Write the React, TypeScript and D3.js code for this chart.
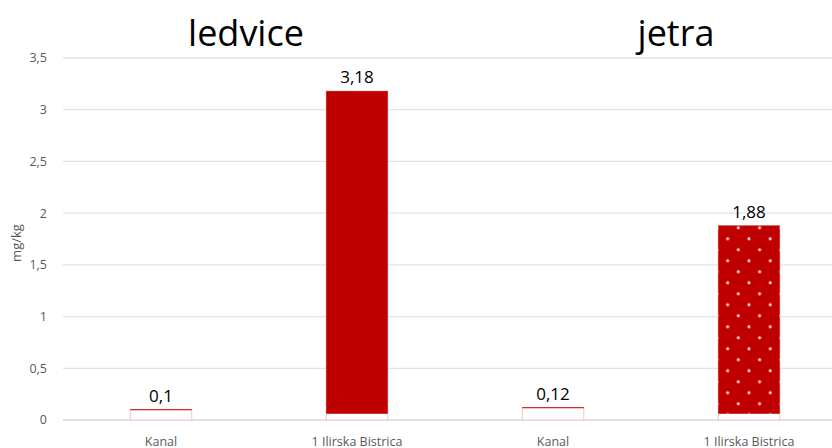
import React from "react";
import * as d3 from "d3";

const categories = ["Kanal", "1 Ilirska Bistrica", "Kanal ", "1 Ilirska Bistrica "];
const categoryLabels = ["Kanal", "1 Ilirska Bistrica", "Kanal", "1 Ilirska Bistrica"];
const values = [0.1, 3.18, 0.12, 1.88];
const valueLabels = ["0,1", "3,18", "0,12", "1,88"];
const fills = ["empty", "solid", "empty", "dots"];
const baseValue = 0.06;
const yTicks = [0, 0.5, 1, 1.5, 2, 2.5, 3, 3.5];
const groupTitles = ["ledvice", "jetra"];
const yAxisTitle = "mg/kg";

const W = 832;
const H = 448;
const FONT = "'Open Sans', 'Noto Sans', sans-serif";

export default function App() {
  const x = d3.scaleBand<string>().domain(categories).range([63, 847]).paddingInner(0.686).paddingOuter(0.343);
  const y = d3.scaleLinear().domain([0, 3.5]).range([420, 58]);
  const bw = x.bandwidth();
  const fmt = (v: number) => d3.format(".1f")(v).replace(".", ",").replace(",0", "");

  return (
    <svg width={W} height={H} style={{ position: "absolute", left: 0, top: 0, background: "#fff" }}>
      <defs>
        <pattern id="dots" patternUnits="userSpaceOnUse" width={21.3} height={22} x={717} y={227.7 - 11}>
          <rect width={21.3} height={22} fill="#c00000" />
          <circle cx={0} cy={11} r={1.5} fill="#fbe4e4" />
          <circle cx={21.3} cy={11} r={1.5} fill="#fbe4e4" />
          <circle cx={10.65} cy={0} r={1.5} fill="#fbe4e4" />
          <circle cx={10.65} cy={22} r={1.5} fill="#fbe4e4" />
        </pattern>
      </defs>
      {yTicks.map((t) => (
        <g key={t}>
          <line x1={63} x2={W} y1={y(t)} y2={y(t)} stroke={t === 0 ? "#d9d9d9" : "#e3e3e3"} strokeWidth={1.3} />
          <text x={47} y={y(t)} dy="0.35em" textAnchor="end" fontFamily={FONT} fontSize={12.5} fill="#595959">
            {fmt(t)}
          </text>
        </g>
      ))}
      <text
        transform={`translate(21,243) rotate(-90)`}
        textAnchor="middle"
        fontFamily={FONT}
        fontSize={13}
        fill="#595959"
      >
        {yAxisTitle}
      </text>
      {categories.map((c, i) => {
        const x0 = x(c)!;
        const top = y(values[i]);
        const base = y(0);
        const mid = y(baseValue);
        return (
          <g key={c}>
            <rect x={x0} y={top} width={bw} height={base - top} fill="#fff" stroke="#f3c6c6" strokeWidth={1} />
            {fills[i] === "empty" ? (
              <line x1={x0} x2={x0 + bw} y1={top} y2={top} stroke="#d42a2a" strokeWidth={1.3} />
            ) : (
              <rect
                x={x0}
                y={top}
                width={bw}
                height={mid - top}
                fill={fills[i] === "dots" ? "url(#dots)" : "#c00000"}
              />
            )}
            <text
              x={x0 + bw / 2}
              y={top - 8}
              textAnchor="middle"
              fontFamily={FONT}
              fontSize={17}
              fill="#000"
            >
              {valueLabels[i]}
            </text>
            <text x={x0 + bw / 2} y={446} textAnchor="middle" fontFamily={FONT} fontSize={12.5} fill="#595959">
              {categoryLabels[i]}
            </text>
          </g>
        );
      })}
      {groupTitles.map((g, i) => (
        <text
          key={g}
          x={i === 0 ? 246 : 676}
          y={46}
          textAnchor="middle"
          fontFamily={FONT}
          fontSize={36}
          fill="#000"
        >
          {g}
        </text>
      ))}
    </svg>
  );
}
